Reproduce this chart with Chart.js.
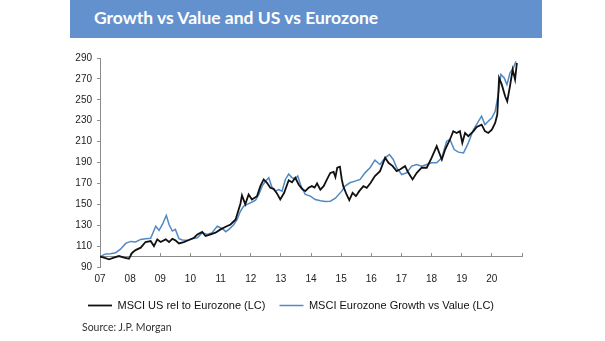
<!DOCTYPE html>
<html>
<head>
<meta charset="utf-8">
<script src="https://cdn.jsdelivr.net/npm/chart.js@4.4.1/dist/chart.umd.min.js"></script>
<style>
  body { margin: 0; background: #fff; }
  #banner { position: absolute; left: 70px; top: 0; width: 472px; height: 38px; background: #6391cd; }
  #banner span { position: absolute; left: 24px; top: 7px; color: #fff; font: bold 17.5px Lato, sans-serif; }
  #wrap { position: absolute; left: 0; top: 40px; width: 605px; height: 283px; }
  #source { position: absolute; left: 82px; top: 321px; font: 10.5px Lato, sans-serif; color: #333; }
</style>
</head>
<body>
<div id="banner"><span>Growth vs Value and US vs Eurozone</span></div>
<div id="wrap"><canvas id="chart"></canvas></div>
<div id="source">Source: J.P. Morgan</div>
<script>
const seriesNames = ['MSCI US rel to Eurozone (LC)', 'MSCI Eurozone Growth vs Value (LC)'];
const yearLabels = ['07','08','09','10','11','12','13','14','15','16','17','18','19','20'];

// MSCI US rel to Eurozone (black)
const usYears = [2007.00,2007.13,2007.30,2007.46,2007.63,2007.80,2007.96,2008.07,2008.18,2008.35,2008.51,2008.68,2008.79,2008.90,
  2009.01,2009.18,2009.29,2009.40,2009.50,2009.62,2009.78,2009.95,2010.12,2010.23,2010.39,2010.50,2010.67,2010.83,
  2011.00,2011.17,2011.33,2011.50,2011.66,2011.71,2011.82,2011.93,2012.04,2012.21,2012.32,2012.43,2012.54,2012.65,
  2012.76,2012.87,2012.98,2013.11,2013.26,2013.37,2013.48,2013.59,2013.70,2013.81,2013.92,2014.03,2014.12,2014.20,
  2014.31,2014.42,2014.53,2014.64,2014.75,2014.81,2014.87,2014.96,2015.02,2015.07,2015.18,2015.27,2015.38,2015.49,
  2015.60,2015.74,2015.85,2015.98,2016.12,2016.29,2016.46,2016.57,2016.71,2016.84,2016.95,2017.12,2017.23,2017.37,
  2017.51,2017.67,2017.84,2018.00,2018.17,2018.34,2018.45,2018.61,2018.72,2018.83,2018.94,2019.02,2019.11,2019.22,
  2019.39,2019.50,2019.66,2019.77,2019.88,2020.00,2020.11,2020.18,2020.24,2020.33,2020.44,2020.51,2020.60,2020.69,
  2020.77,2020.83];
const usValues = [100,99,97.4,99,100.5,99,98,103.7,106.2,108.5,113.9,114.8,110,116.4,
  113.9,116.4,113.9,117,115.5,112.6,113.9,115.8,118,121.2,123.5,119.6,121.2,122.8,
  126,128.5,130.7,135.5,150.8,158.5,150,159.4,154.6,157.8,167.4,173.8,170.6,165.8,
  164.8,160.4,154.6,161,173,171,175.4,169,164.8,162.6,165.8,167.4,166,170,
  164,167.4,173.8,180,181,176,185,186,174,167.4,159.4,154,161,157.8,
  162.6,167.4,165.8,170.6,177,181.7,194.5,189.7,186.5,181.7,183.3,186.5,180.1,173.8,
  180.1,185,185,194.5,205.6,192.9,202.4,212,220,218.3,220,208.8,218.3,215.2,
  220,224.1,226.3,220,218.3,221.5,227.9,235.9,270.9,264.5,253.4,248.6,262.9,278.9,
  269.3,285.2];

// MSCI Eurozone Growth vs Value (blue)
const gvYears = [2007.00,2007.19,2007.35,2007.52,2007.68,2007.85,2008.02,2008.18,2008.35,2008.51,2008.68,2008.85,2008.96,
  2009.07,2009.20,2009.29,2009.40,2009.50,2009.62,2009.73,2009.90,2010.06,2010.23,2010.39,2010.56,2010.72,2010.89,
  2011.06,2011.17,2011.28,2011.44,2011.55,2011.66,2011.77,2011.88,2012.00,2012.16,2012.27,2012.38,2012.49,2012.60,
  2012.71,2012.82,2012.93,2013.04,2013.15,2013.26,2013.37,2013.48,2013.56,2013.67,2013.81,2013.98,2014.14,2014.31,
  2014.48,2014.64,2014.81,2015.02,2015.13,2015.29,2015.46,2015.63,2015.79,2015.96,2016.12,2016.29,2016.46,2016.60,
  2016.73,2016.84,2017.01,2017.17,2017.34,2017.51,2017.67,2017.84,2018.00,2018.17,2018.34,2018.50,2018.61,2018.75,
  2018.89,2019.06,2019.22,2019.39,2019.56,2019.66,2019.77,2019.88,2020.00,2020.11,2020.22,2020.30,2020.41,2020.50,
  2020.60,2020.71,2020.80];
const gvValues = [100,102.5,102.7,103.7,107,112.6,114.5,114,116.4,117,117.4,129,125,
  130.7,139.4,130.7,124.4,126,117,115.8,115.5,117,118,122.8,121.2,122.8,129,
  126.6,123.8,126,130.7,135.5,143.5,148.3,149.9,151.5,154,159.4,167.4,172.2,175.4,
  165.8,162.6,164,162.6,173.8,179,175.4,174.4,177,167.4,159.4,157.8,154.6,153.4,
  152.7,153,155.9,162.6,167.4,170.6,172.2,173.8,180.1,185,192.2,188.1,194.5,197.6,
  192.9,185,178.5,180.1,186.5,188.1,186.5,188.1,189.7,189.7,194.5,210.4,212,202.4,
  199.9,199.2,208.8,221.5,229.5,234.3,226.3,229.5,232.7,239,256.6,274.2,270.9,264.5,
  275.7,280.4,286.8];

const sans = "'Liberation Sans', Arial, sans-serif";
const axisGrey = '#8c8c8c';

new Chart(document.getElementById('chart'), {
    type: 'line',
    data: {
        datasets: [{
            label: seriesNames[0],
            data: usYears.map((x, i) => ({ x: x, y: usValues[i] })),
            borderColor: '#111111',
            backgroundColor: '#111111',
            borderWidth: 1.8,
            pointRadius: 0,
            tension: 0
        }, {
            label: seriesNames[1],
            data: gvYears.map((x, i) => ({ x: x, y: gvValues[i] })),
            borderColor: '#5189c4',
            backgroundColor: '#5189c4',
            borderWidth: 1.5,
            pointRadius: 0,
            tension: 0
        }]
    },
    options: {
        responsive: true,
        maintainAspectRatio: false,
        animation: false,
        layout: { padding: { top: 18, left: 60, right: 83, bottom: 2 } },
        plugins: {
            legend: {
                position: 'bottom',
                labels: {
                    color: '#111',
                    font: { family: sans, size: 11 },
                    usePointStyle: true,
                    pointStyle: 'line',
                    boxWidth: 24,
                    pointStyleWidth: 24,
                    padding: 14
                }
            },
            tooltip: { enabled: false }
        },
        scales: {
            x: {
                type: 'linear',
                position: 'bottom',
                min: 2007,
                max: 2021,
                grid: { display: false, drawTicks: false },
                border: { display: false },
                ticks: {
                    stepSize: 1,
                    includeBounds: false,
                    autoSkip: false,
                    maxRotation: 0,
                    padding: 6,
                    color: '#222',
                    font: { family: sans, size: 10 },
                    callback: (v) => yearLabels[v - 2007] || ''
                },
                afterFit: (scale) => { scale.height = 19; }
            },
            x2: {
                type: 'linear',
                position: { y: 100 },
                min: 2007,
                max: 2021,
                grid: { drawOnChartArea: false, tickLength: -4, color: axisGrey },
                border: { color: axisGrey },
                ticks: { display: false, stepSize: 1, includeBounds: false }
            },
            y: {
                min: 90,
                max: 290,
                grid: { drawOnChartArea: false, tickLength: 3, color: axisGrey },
                border: { color: axisGrey },
                ticks: {
                    stepSize: 20,
                    padding: 5,
                    color: '#222',
                    font: { family: sans, size: 10 },
                    callback: (v) => v
                },
                afterFit: (scale) => { scale.width = 40; }
            }
        }
    }
});
</script>
</body>
</html>
